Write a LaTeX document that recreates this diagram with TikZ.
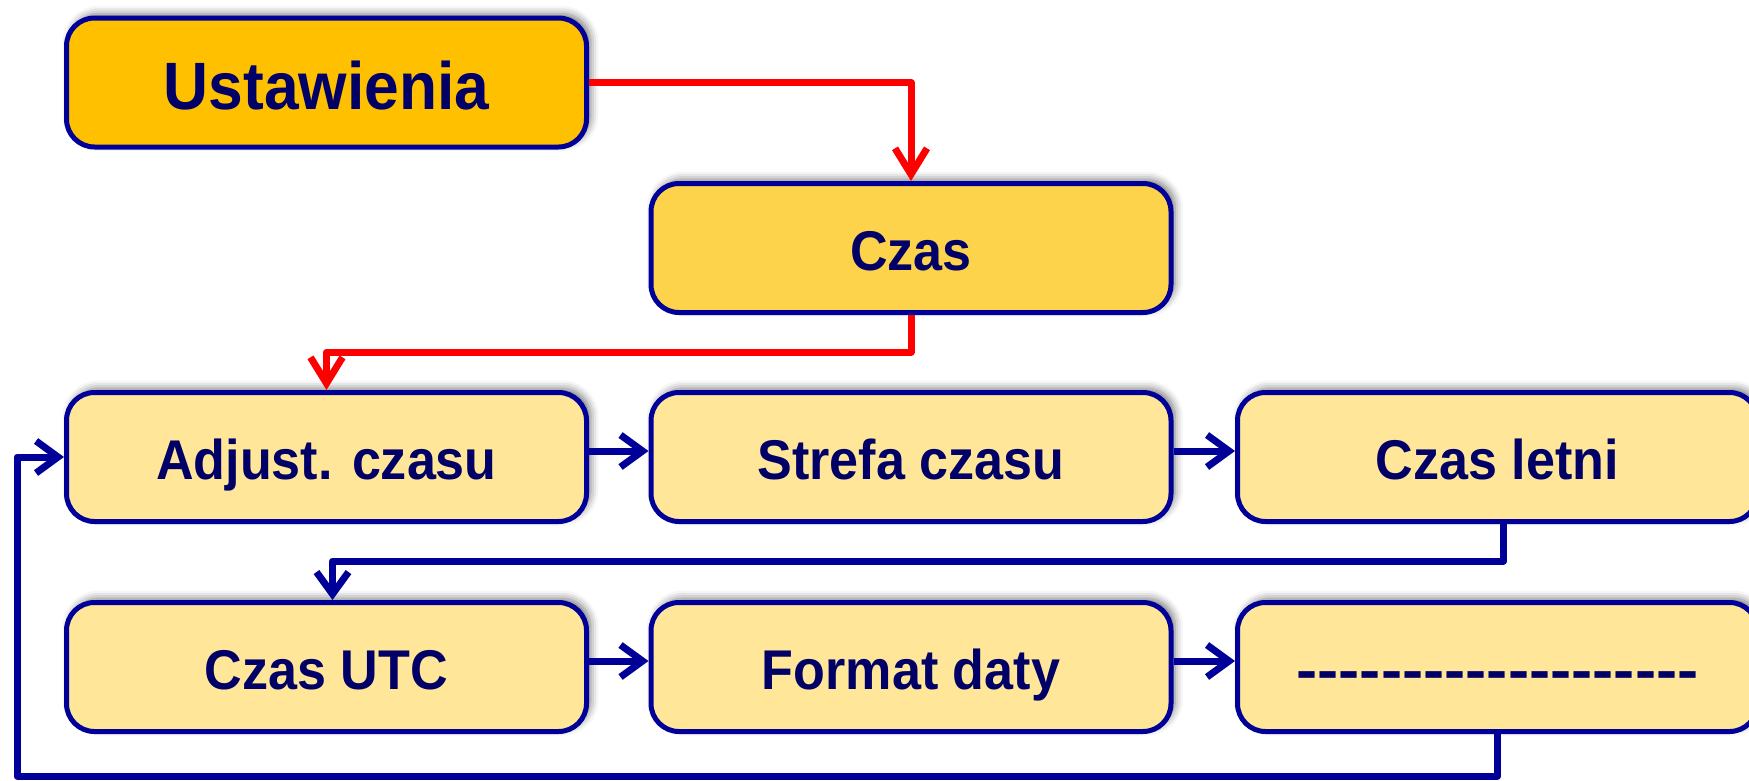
\documentclass[tikz,border=0pt]{standalone}
\usepackage{fontspec}
\setmainfont{Liberation Sans}[FakeStretch=0.93]
\usepackage{graphicx}
\usetikzlibrary{arrows.meta,shadows.blur}
\definecolor{boxblue}{HTML}{000099}
\definecolor{txtblue}{HTML}{000066}
\definecolor{orangeA}{HTML}{FFC000}
\definecolor{yellowB}{HTML}{FDD34C}
\definecolor{yellowC}{HTML}{FFE699}
\definecolor{lineRed}{HTML}{FF0000}
\newcommand\hyrun{\mbox{-}}
\tikzset{
  box/.style={draw=boxblue, line width=5pt, rounded corners=28pt,
    minimum width=520pt, minimum height=129pt, inner sep=0pt,
    fill=yellowC, text=txtblue,
    font=\fontsize{56}{60}\selectfont\bfseries,
    text height=47pt, text depth=3pt,
    blur shadow={shadow xshift=4pt, shadow yshift=4pt, shadow blur radius=8pt, shadow opacity=55}},
  topbox/.style={box, fill=orangeA, font=\fontsize{67}{72}\selectfont\bfseries,
    text height=53pt, text depth=0pt},
  midbox/.style={box, fill=yellowB},
  blueconn/.style={draw=boxblue, line width=7pt, line join=round,
    -{Straight Barb[length=22pt,width=32pt,line width=7pt]}},
  redconn/.style={draw=lineRed, line width=7pt, line join=round,
    -{Straight Barb[length=26pt,width=32pt,line width=7pt]}},
}
\begin{document}
\begin{tikzpicture}[x=1pt,y=-1pt]
\useasboundingbox (0,0) rectangle (1749,780);
\node[topbox] (ust) at (326.5,82.5) {Ustawienia};
\node[midbox] (czas) at (911,248) {Czas};
\node[box] (adj) at (326.5,457) {Adjust. czasu};
\node[box] (strefa) at (911,457) {Strefa czasu};
\node[box] (letni) at (1497.5,457) {Czas letni};
\node[box] (utc) at (326.5,667) {Czas UTC};
\node[box] (format) at (911,667) {Format daty};
\node[box] (dash) at (1497.5,667) {\scalebox{1.22}[1]{\hyrun\hyrun\hyrun\hyrun\hyrun\hyrun\hyrun\hyrun\hyrun\hyrun\hyrun\hyrun\hyrun\hyrun\hyrun\hyrun\hyrun\hyrun\hyrun}};
\coordinate (lp) at (17,776);
% red connectors
\draw[redconn] (ust.east) -| (czas.north);
\draw[redconn] (czas.south) -- ++(0,37) -| (adj.north);
% blue connectors
\draw[blueconn] ([yshift=6pt]adj.east) -- ([yshift=6pt]strefa.west);
\draw[blueconn] ([yshift=6pt]strefa.east) -- ([yshift=6pt]letni.west);
\draw[blueconn] ([yshift=6pt]utc.east) -- ([yshift=6pt]format.west);
\draw[blueconn] ([yshift=6pt]format.east) -- ([yshift=6pt]dash.west);
\draw[blueconn] ([xshift=6pt]letni.south) -- ++(0,37) -| ([xshift=6pt]utc.north);
\draw[blueconn] (dash.south) |- (lp) |- (adj.west);
\end{tikzpicture}
\end{document}
